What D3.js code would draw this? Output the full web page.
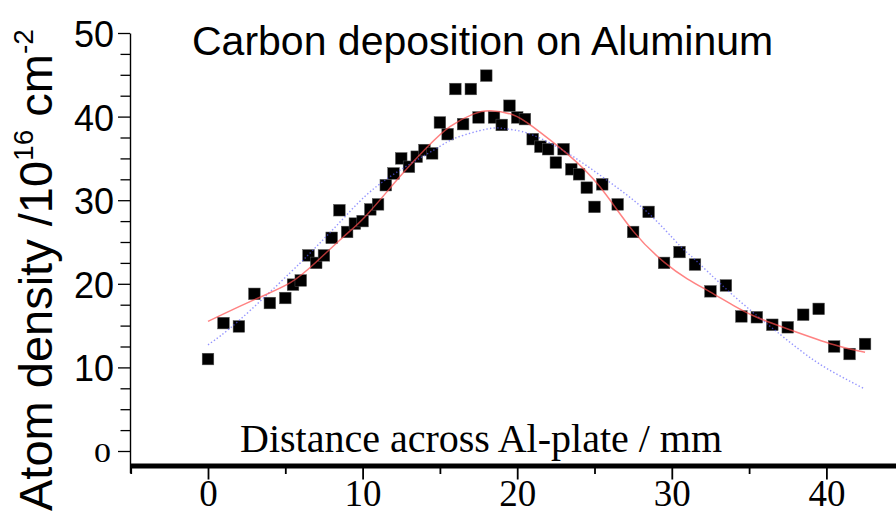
<!DOCTYPE html>
<html><head><meta charset="utf-8">
<script src="https://cdn.jsdelivr.net/npm/d3@7"></script>
<style>body{margin:0;background:#fff}svg{display:block}</style>
</head><body><svg id="c" width="896" height="515"></svg>
<script>
// measured points
const distance = [0,1,2,3,4,5,5.5,6,6.5,7,7.5,8,8.5,9,9.5,10,10.5,11,11.5,12,12.5,13,13.5,14,14.5,15,15.5,16,16.5,17,17.5,18,18.5,19,19.5,20,20.5,21,21.5,22,22.5,23,23.5,24,24.5,25,25.5,26.5,27.5,28.5,29.5,30.5,31.5,32.5,33.5,34.5,35.5,36.5,37.5,38.5,39.5,40.5,41.5,42.5];
const density = [11.0,15.3,14.9,18.8,17.7,18.3,19.9,20.4,23.4,22.5,23.4,25.5,28.8,26.2,27.2,27.5,28.9,29.5,31.8,33.2,35.0,34.0,35.2,36.0,35.6,39.3,37.9,43.3,39.1,43.3,39.9,44.9,39.9,39.0,41.3,39.9,39.7,37.3,36.4,36.1,34.5,36.1,33.7,33.1,31.5,29.2,31.9,29.5,26.2,28.6,22.5,23.8,22.3,19.1,19.8,16.1,16.0,15.1,14.8,16.3,17.0,12.5,11.6,12.8];
// red fit curve
const fitRedX = [0,3,5.3,7.0,8.75,10.3,12.4,14.15,15.65,17.15,18.3,19.75,21.0,23.2,25.35,27.5,29.5,31.0,32.5,34.0,35.5,37.5,40.5,42.5];
const fitRedY = [15.5,18.1,20.1,22.6,25.6,28.3,32.8,36.3,38.8,40.3,40.7,40.2,38.8,35.6,31.6,26.3,22.6,20.6,19.0,17.4,16.0,14.6,12.7,11.8];
// blue dotted fit curve
const fitBlueX = [0,2,5.3,7.3,9.0,11.3,14.6,16.1,18.0,19.0,19.8,21.0,23.2,25.8,28.4,30.5,31.5,33.5,35.5,36.5,38.2,40.0,42.5];
const fitBlueY = [12.7,15.6,21.3,25.0,28.3,32.2,36.0,37.5,38.5,38.6,38.4,37.8,35.7,32.4,28.6,24.6,22.9,19.4,16.2,14.7,12.2,9.9,7.4];
const xMajorTicks = [0,10,20,30,40];
const xMinorTicks = [-5,5,15,25,35];
const yMajorTicks = [0,10,20,30,40,50];
const yMinorTicks = [2.5,5,7.5,12.5,15,17.5,22.5,25,27.5,32.5,35,37.5,42.5,45,47.5];
const titleText = "Carbon deposition on Aluminum";
const xTitleText = "Distance across Al-plate / mm";

const SANS = "'Liberation Sans', Arial, Helvetica, sans-serif";
const SERIF = "'Liberation Serif', 'Times New Roman', serif";

const svg = d3.select("#c");
const x = d3.scaleLinear().domain([0,40]).range([208,826.4]);
const y = d3.scaleLinear().domain([0,50]).range([451,33]);

// Y axis
const yAxisScale = y.copy().domain([-2.6,50]).range([y(-2.6), y(50)]);
const gy = svg.append("g").attr("transform","translate(130,0)")
  .call(d3.axisLeft(yAxisScale).tickValues(yMajorTicks.concat(yMinorTicks))
    .tickSize(12).tickSizeOuter(0)
    .tickFormat(d => yMajorTicks.includes(d) ? d : ""));
gy.select(".domain").attr("stroke","#000").attr("stroke-width",1.4);
gy.selectAll(".tick line").attr("stroke","#000").attr("stroke-width",1.3)
  .attr("x2", d => yMajorTicks.includes(d) ? -12 : -9.5);
gy.selectAll(".tick text").attr("fill","#000")
  .attr("font-family",SANS).attr("font-size",36)
  .attr("x",-16).attr("dy",13.5);
gy.selectAll(".tick text").filter(d => d === 0)
  .attr("font-family",SERIF).attr("font-size",34)
  .attr("x",-19).attr("dy",12.5).attr("transform","scale(1,0.8)");

// X axis
const xAxisScale = x.copy().domain([-5,44.6]).range([x(-5), x(44.6)]);
const gx = svg.append("g").attr("transform","translate(0,466)")
  .call(d3.axisBottom(xAxisScale).tickValues(xMajorTicks.concat(xMinorTicks))
    .tickSize(13.5).tickSizeOuter(0)
    .tickFormat(d => xMajorTicks.includes(d) ? d : ""));
gx.select(".domain").attr("stroke","#000").attr("stroke-width",5)
  .attr("d", `M${x(-5)},0H896`);
gx.selectAll(".tick line").attr("stroke","#000").attr("stroke-width",1.8)
  .attr("y1",2).attr("y2", d => xMajorTicks.includes(d) ? 13.5 : 8);
gx.selectAll(".tick text").attr("fill","#000")
  .attr("font-family",SERIF).attr("font-size",37)
  .attr("y",40).attr("dy",0);

// points
svg.append("g").selectAll("rect").data(d3.zip(distance, density)).join("rect")
  .attr("x", d => x(d[0]) - 5.8).attr("y", d => y(d[1]) - 5.8)
  .attr("width",11.6).attr("height",11.6)
  .attr("fill","#000").attr("stroke","#555").attr("stroke-width",0.5);

// fit curves
const line = d3.line().x(d => x(d[0])).y(d => y(d[1])).curve(d3.curveNatural);
svg.append("path").datum(d3.zip(fitBlueX, fitBlueY)).attr("d", line)
  .attr("fill","none").attr("stroke","#5a5aff").attr("stroke-width",1.4)
  .attr("stroke-dasharray","1.4,2.2").attr("opacity",0.65);
svg.append("path").datum(d3.zip(fitRedX, fitRedY)).attr("d", line)
  .attr("fill","none").attr("stroke","#ff4d4d").attr("stroke-width",1.5)
  .attr("opacity",0.7);

// titles
svg.append("text").attr("x",192).attr("y",55)
  .attr("font-family",SANS).attr("font-size",41).attr("fill","#000").text(titleText);
svg.append("text").attr("x",240).attr("y",452)
  .attr("font-family",SERIF).attr("font-size",40).attr("fill","#000").text(xTitleText);

const yt = svg.append("text").attr("transform","translate(52,511) rotate(-90)")
  .attr("font-family",SANS).attr("font-size",47).attr("fill","#000");
yt.append("tspan").text("Atom density /10");
yt.append("tspan").attr("font-size",28).attr("dy",-19).text("16");
yt.append("tspan").attr("dy",19).text(" cm");
yt.append("tspan").attr("font-size",28).attr("dy",-19).text("-2");
</script></body></html>
